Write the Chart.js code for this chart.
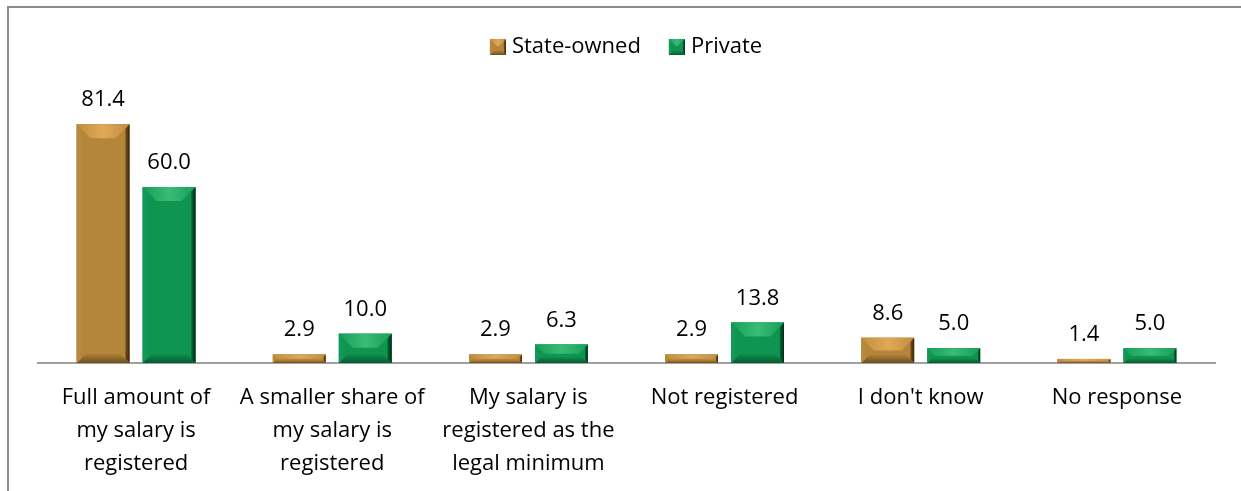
<!DOCTYPE html>
<html>
<head>
<meta charset="utf-8">
<script src="https://cdn.jsdelivr.net/npm/chart.js@4"></script>
<style>
  html, body { margin: 0; padding: 0; background: #fff; }
  #wrap { position: relative; width: 1241px; height: 491px; overflow: hidden; }
  #frame {
    position: absolute; left: 7px; top: 6px; width: 1300px; height: 600px;
    border-left: 2px solid #8c8c8c; border-top: 2px solid #8c8c8c;
  }
  canvas { position: absolute; left: 0; top: 0; }
</style>
</head>
<body>
<div id="wrap">
  <div id="frame"></div>
  <canvas id="salaryChart" width="1241" height="491"></canvas>
</div>
<script>
/* ---------- DATA ---------- */
const categories = [
    ["Full amount of", "my salary is", "registered"],
    ["A smaller share of", "my salary is", "registered"],
    ["My salary is", "registered as the", "legal minimum"],
    ["Not registered"],
    ["I don't know"],
    ["No response"]
];
const stateOwned = [81.4, 2.9, 2.9, 2.9, 8.6, 1.4];
const privateSector = [60.0, 10.0, 6.3, 13.8, 5.0, 5.0];
const seriesNames = ["State-owned", "Private"];

/* ---------- COLOURS ---------- */
const palette = [
    { body: "#b5853a", top: ["#c18d40", "#e0a957", "#c18d40"], left: "#b98940", right: ["#7a5622", "#33230c"], bottom: ["#b5853a", "#6e4f20"] },
    { body: "#0f9550", top: ["#14a058", "#3abb76", "#14a058"], left: "#12985a", right: ["#08673a", "#022b15"], bottom: ["#0f9550", "#075a30"] }
];

const FONT = "'Open Sans', sans-serif";

/* ---------- BEVEL DRAWING ---------- */
function poly(ctx, pts, fill) {
    ctx.beginPath();
    ctx.moveTo(pts[0][0], pts[0][1]);
    for (let i = 1; i < pts.length; i++) ctx.lineTo(pts[i][0], pts[i][1]);
    ctx.closePath();
    ctx.fillStyle = fill;
    ctx.fill();
}

function bevelBox(ctx, l, t, r, b, c, size) {
    const w = r - l, h = b - t;
    const bv = Math.min(size, w / 2, h / 2);
    const bb = Math.min(bv * 0.7, h / 2);
    const bs = Math.min(bv, Math.max(2, bv * 0.3)); // thin side strips
    ctx.fillStyle = c.body;
    ctx.fillRect(l, t, w, h);

    // bottom face
    const gBot = ctx.createLinearGradient(0, b - bb, 0, b);
    gBot.addColorStop(0, c.bottom[0]);
    gBot.addColorStop(1, c.bottom[1]);
    poly(ctx, [[l, b], [r, b], [r - bb, b - bb], [l + bb, b - bb]], gBot);

    // left and right faces
    poly(ctx, [[l, t], [l + bs, t + bs], [l + bs, b - bs], [l, b]], c.left);
    const gRight = ctx.createLinearGradient(r - bs, 0, r, 0);
    gRight.addColorStop(0, c.right[0]);
    gRight.addColorStop(1, c.right[1]);
    poly(ctx, [[r, t], [r, b], [r - bs, b - bs], [r - bs, t + bs]], gRight);

    // top face with 45 degree corners
    const gTop = ctx.createLinearGradient(l, 0, r, 0);
    gTop.addColorStop(0, c.top[0]);
    gTop.addColorStop(0.5, c.top[1]);
    gTop.addColorStop(1, c.top[2]);
    poly(ctx, [[l, t], [r, t], [r - bv, t + bv], [l + bv, t + bv]], gTop);
}

/* ---------- PLUGINS ---------- */
const bevelBars = {
    id: "bevelBars",
    afterDatasetsDraw(chart) {
        const ctx = chart.ctx;
        ctx.save();
        chart.data.datasets.forEach((ds, di) => {
            const meta = chart.getDatasetMeta(di);
            meta.data.forEach((bar) => {
                const half = bar.width / 2;
                bevelBox(ctx, bar.x - half, bar.y, bar.x + half, bar.base, palette[di], 14);
            });
        });
        ctx.restore();
    }
};

const valueLabels = {
    id: "valueLabels",
    afterDatasetsDraw(chart) {
        const ctx = chart.ctx;
        ctx.save();
        ctx.font = "22px " + FONT;
        ctx.fillStyle = "#000";
        ctx.textAlign = "center";
        ctx.textBaseline = "alphabetic";
        chart.data.datasets.forEach((ds, di) => {
            const meta = chart.getDatasetMeta(di);
            meta.data.forEach((bar, i) => {
                ctx.fillText(ds.data[i].toFixed(1), bar.x, bar.y - 18);
            });
        });
        ctx.restore();
    }
};

const bevelLegend = {
    id: "bevelLegend",
    afterDraw(chart) {
        const ctx = chart.ctx;
        ctx.save();
        ctx.font = "22px " + FONT;
        ctx.textBaseline = "middle";
        const box = 16, gapBox = 6, gapItem = 28, y = 47;
        const widths = seriesNames.map(n => box + gapBox + ctx.measureText(n).width);
        const total = widths.reduce((a, b) => a + b, 0) + gapItem;
        let x = 626 - total / 2;
        seriesNames.forEach((name, i) => {
            bevelBox(ctx, x, y - box / 2, x + box, y + box / 2, palette[i], 7);
            ctx.fillStyle = "#000";
            ctx.fillText(name, x + box + gapBox, y);
            x += widths[i] + gapItem;
        });
        ctx.restore();
    }
};

/* ---------- CHART ---------- */
new Chart(document.getElementById("salaryChart"), {
    type: "bar",
    data: {
        labels: categories,
        datasets: [
            { label: seriesNames[0], data: stateOwned, backgroundColor: palette[0].body },
            { label: seriesNames[1], data: privateSector, backgroundColor: palette[1].body }
        ]
    },
    options: {
        responsive: false,
        animation: false,
        devicePixelRatio: 1,
        layout: { padding: { top: 99, left: 38, right: 26, bottom: 0 } },
        datasets: {
            bar: { categoryPercentage: 0.673, barPercentage: 0.8 }
        },
        plugins: {
            legend: { display: false },
            tooltip: { enabled: false }
        },
        scales: {
            x: {
                grid: { display: false, drawTicks: false },
                border: { display: true, color: "#a0a0a0", width: 2 },
                ticks: {
                    color: "#000",
                    font: { family: FONT, size: 22, lineHeight: 1.5 },
                    padding: 18,
                    maxRotation: 0,
                    autoSkip: false
                },
                afterFit(scale) { scale.height = 128; }
            },
            y: {
                display: false,
                min: 0,
                max: 90
            }
        }
    },
    plugins: [bevelBars, valueLabels, bevelLegend]
});
</script>
</body>
</html>
